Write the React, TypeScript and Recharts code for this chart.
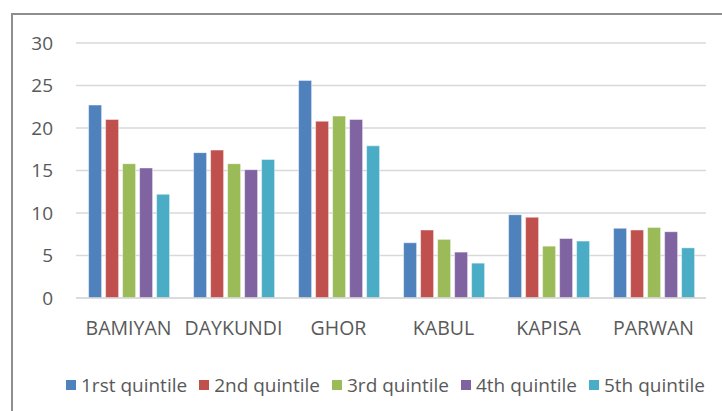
import React from 'react';
import { BarChart, Bar, XAxis, YAxis, CartesianGrid, Legend } from 'recharts';

const provinces = ['BAMIYAN', 'DAYKUNDI', 'GHOR', 'KABUL', 'KAPISA', 'PARWAN'];
const q1 = [22.7, 17.1, 25.6, 6.5, 9.8, 8.2];
const q2 = [21.0, 17.4, 20.8, 8.0, 9.5, 8.0];
const q3 = [15.8, 15.8, 21.4, 6.9, 6.1, 8.3];
const q4 = [15.3, 15.1, 21.0, 5.4, 7.0, 7.8];
const q5 = [12.2, 16.3, 17.9, 4.1, 6.7, 5.9];
const seriesNames = ['1rst quintile', '2nd quintile', '3rd quintile', '4th quintile', '5th quintile'];
const seriesColors = ['#4F81BD', '#C0504D', '#9BBB59', '#8064A2', '#4BACC6'];
const yTicks = [0, 5, 10, 15, 20, 25, 30];

const allSeries = [q1, q2, q3, q4, q5];
const data = provinces.map((p, i) => {
  const row: Record<string, string | number> = { name: p };
  allSeries.forEach((s, k) => {
    row['s' + k] = s[i];
  });
  return row;
});

const FONT = "'Open Sans', 'Liberation Sans', sans-serif";
const TEXT = '#595959';

const LegendContent = (props: any) => {
  const payload = props.payload || [];
  return (
    <div style={{ display: 'flex', whiteSpace: 'nowrap', fontFamily: FONT, fontSize: 19, color: TEXT, lineHeight: '22px' }}>
      {payload.map((e: any, i: number) => (
        <div key={i} style={{ display: 'flex', alignItems: 'center', marginRight: 12 }}>
          <span style={{ display: 'inline-block', width: 10, height: 10, background: e.color, marginRight: 5 }} />
          <span>{e.value}</span>
        </div>
      ))}
    </div>
  );
};

export default function App() {
  return (
    <div style={{ position: 'absolute', left: 0, top: 0, width: 722, height: 411, overflow: 'hidden', background: '#fff' }}>
      <div style={{ position: 'absolute', left: 11, top: 13, width: 800, height: 500, border: '2px solid #8e8e8e', boxSizing: 'border-box' }} />
      <div style={{ position: 'absolute', left: 0, top: 0 }}>
        <BarChart
          width={722}
          height={411}
          data={data}
          margin={{ top: 43, right: 16, left: 0, bottom: 73 }}
          barCategoryGap="12%"
          barGap={4}
        >
          <CartesianGrid vertical={false} stroke="#D9D9D9" strokeWidth={1.5} />
          <XAxis
            dataKey="name"
            height={40}
            axisLine={{ stroke: '#D9D9D9', strokeWidth: 1.5 }}
            tickLine={false}
            tickMargin={17}
            interval={0}
            tick={{ fill: TEXT, fontSize: 19.5, fontFamily: FONT }}
          />
          <YAxis
            width={76}
            domain={[0, 30]}
            ticks={yTicks}
            axisLine={false}
            tickLine={false}
            tickMargin={17}
            tick={{ fill: TEXT, fontSize: 19, fontFamily: FONT }}
          />
          <Legend
            layout="horizontal"
            verticalAlign="middle"
            align="center"
            wrapperStyle={{ top: 374, left: 66, width: 'auto' }}
            content={<LegendContent />}
          />
          {seriesNames.map((n, k) => (
            <Bar
              key={n}
              dataKey={'s' + k}
              name={n}
              fill={seriesColors[k]}
              stroke="#ffffff"
              strokeOpacity={0.45}
              strokeWidth={1}
              isAnimationActive={false}
            />
          ))}
        </BarChart>
      </div>
    </div>
  );
}
